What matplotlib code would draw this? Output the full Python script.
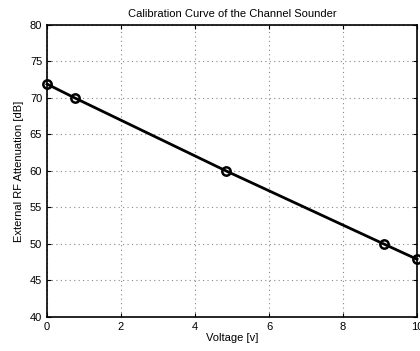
import matplotlib
matplotlib.use('Agg')
import matplotlib.pyplot as plt

plt.rcParams['font.family'] = ['Liberation Sans', 'DejaVu Sans']

# calibration points
voltage = [0, 0.75, 4.84, 9.1, 10]
atten = [71.9, 70, 60, 50, 47.9]

fig = plt.figure(figsize=(4.2, 3.51), dpi=100)
ax = fig.add_axes([0.112, 0.097, 0.881, 0.832])

ax.plot(voltage, atten, color='black', linewidth=2, marker='o',
        markersize=6, markerfacecolor='none', markeredgewidth=1.8, clip_on=False)

ax.set_xlim(0, 10)
ax.set_ylim(40, 80)
ax.set_xticks([0, 2, 4, 6, 8, 10])
ax.set_yticks([40, 45, 50, 55, 60, 65, 70, 75, 80])
ax.tick_params(direction='in', labelsize=8, length=3, width=0.8, top=True, right=True)
ax.grid(True, linestyle=(0, (1, 3)), color='#888888', linewidth=0.8)
for s in ax.spines.values():
    s.set_linewidth(1.2)

ax.set_xlabel('Voltage [v]', fontsize=8, labelpad=1)
ax.set_ylabel('External RF Attenuation [dB]', fontsize=8, labelpad=4)
ax.set_title('Calibration Curve of the Channel Sounder', fontsize=8, pad=6)

fig.savefig('out.png', dpi=100)
